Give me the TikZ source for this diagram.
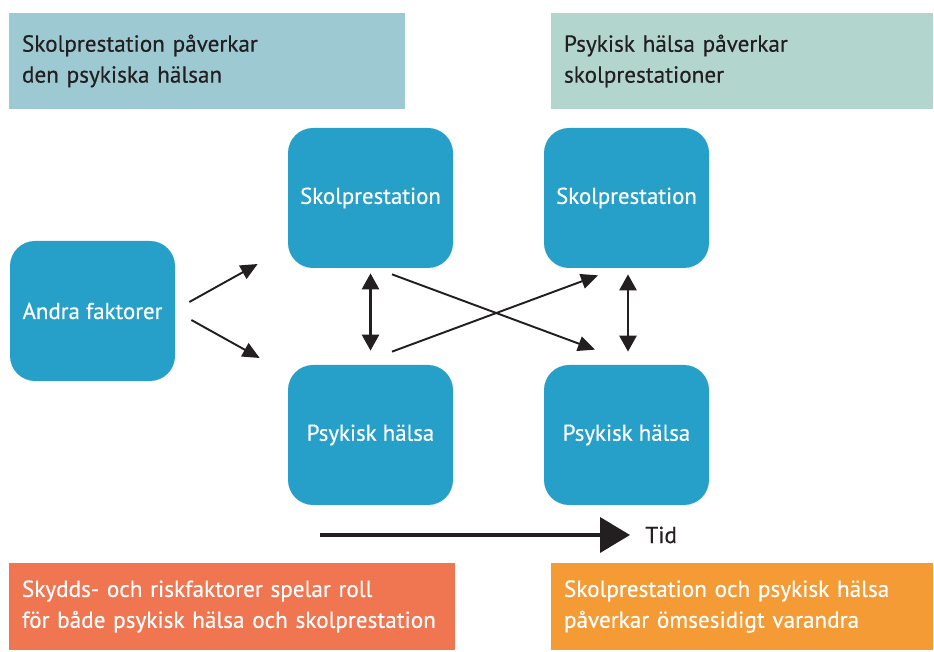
\documentclass[tikz,border=0pt]{standalone}
\usepackage{fontspec}
\setmainfont{PT Sans}[FakeBold=0.4]
\usepackage{xcolor}
\usetikzlibrary{positioning,arrows.meta}
\definecolor{boxblue}{RGB}{39,160,201}
\definecolor{noteblue}{RGB}{157,201,211}
\definecolor{notegreen}{RGB}{178,214,206}
\definecolor{notered}{RGB}{240,117,81}
\definecolor{noteorange}{RGB}{245,155,54}
\definecolor{inkdark}{RGB}{35,31,32}
\tikzset{
  blockbox/.style={fill=boxblue,rounded corners=0.5cm,minimum width=3.3cm,minimum height=2.8cm,
    text=white,font=\fontsize{13}{15}\selectfont,inner sep=0pt},
  notebox/.style={minimum height=1.92cm,inner xsep=0.26cm,inner ysep=0pt,align=left,
    text=inkdark,font=\fontsize{13.2}{17.6}\selectfont},
  smallarrow/.style={-{Triangle[length=0.34cm,width=0.3cm]},line width=1.1pt,draw=inkdark},
  pairarrow/.style={{Triangle[length=0.32cm,width=0.34cm]}-{Triangle[length=0.32cm,width=0.34cm]},line width=1.5pt,draw=inkdark}
}

\begin{document}
\begin{tikzpicture}
  \useasboundingbox (0,0) rectangle (18.68,13.02);
  % notes at the corners
  \node[notebox,fill=noteblue,text width=7.4cm] (noteA) at (4.14,11.8)
    {Skolprestation påverkar\\den psykiska hälsan};
  \node[notebox,fill=notegreen,text width=7.12cm] (noteB) at (14.84,11.8)
    {Psykisk hälsa påverkar\\skolprestationer};
  \node[notebox,fill=notered,text width=8.4cm,minimum height=1.74cm,text=white] (noteC) at (4.64,0.89)
    {Skydds- och riskfaktorer spelar roll\\för både psykisk hälsa och skolprestation};
  \node[notebox,fill=noteorange,text width=7.12cm,minimum height=1.74cm,text=white] (noteD) at (14.84,0.89)
    {Skolprestation och psykisk hälsa\\påverkar ömsesidigt varandra};
  % blocks
  \node[blockbox] (andra) at (1.85,6.8) {Andra faktorer};
  \node[blockbox] (skol1) at (7.41,9.06) {Skolprestation};
  \node[blockbox] (psyk1) at (7.41,4.32) {Psykisk hälsa};
  \node[blockbox] (skol2) at (12.53,9.06) {Skolprestation};
  \node[blockbox] (psyk2) at (12.53,4.32) {Psykisk hälsa};
  % arrows
  \draw[smallarrow] ([xshift=0.28cm,yshift=0.18cm]andra.east) -- ([xshift=-0.6cm,yshift=-1.32cm]skol1.west);
  \draw[smallarrow] ([xshift=0.32cm,yshift=-0.18cm]andra.east) -- ([xshift=-0.56cm,yshift=1.54cm]psyk1.west);
  \draw[pairarrow] ([yshift=-0.1cm]skol1.south) -- ([yshift=0.28cm]psyk1.north);
  \draw[pairarrow] ([xshift=0.03cm,yshift=-0.12cm]skol2.south) -- ([xshift=0.03cm,yshift=0.26cm]psyk2.north);
  \draw[smallarrow] ([xshift=0.43cm,yshift=-0.12cm]skol1.south) -- ([xshift=-0.63cm,yshift=0.3cm]psyk2.north);
  \draw[smallarrow] ([xshift=0.43cm,yshift=0.26cm]psyk1.north) -- ([xshift=-0.57cm,yshift=-0.14cm]skol2.south);
  % time
  \coordinate (tstart) at (6.4,2.32);
  \node[anchor=west,text=inkdark,font=\fontsize{13.2}{15}\selectfont,inner sep=0pt] (tid) at (12.9,2.32) {Tid};
  \draw[-{Triangle[length=0.6cm,width=0.7cm]},line width=2.3pt,draw=inkdark,shorten >=0.3cm] (tstart) -- (tid.west);
\end{tikzpicture}
\end{document}
